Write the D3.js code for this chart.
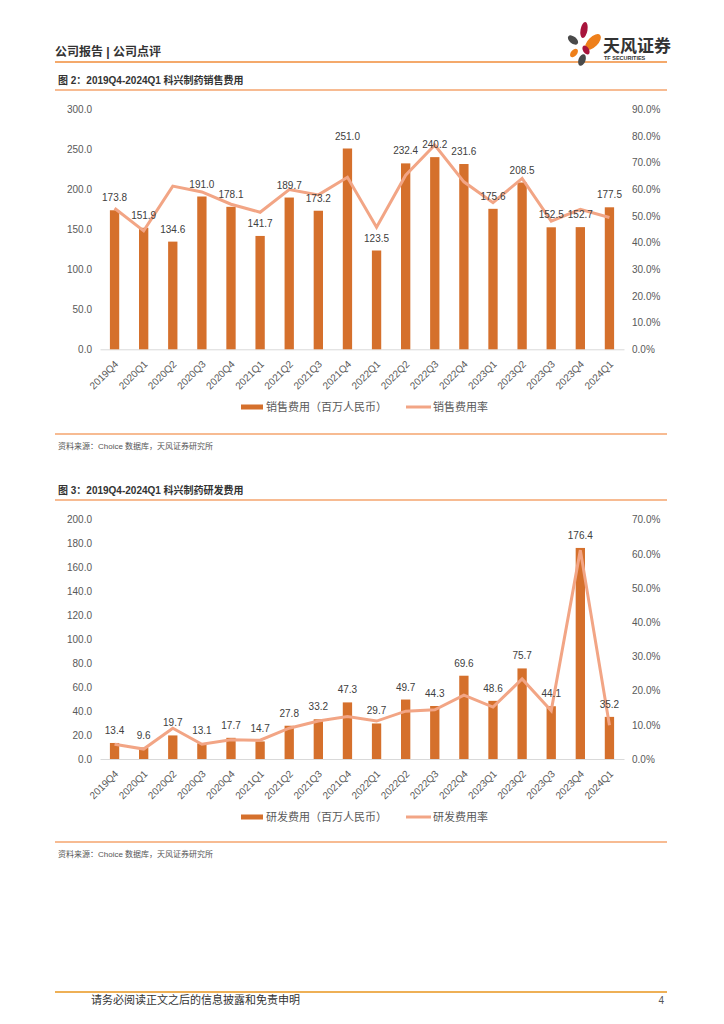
<!DOCTYPE html>
<html>
<head>
<meta charset="utf-8">
<script src="https://cdn.jsdelivr.net/npm/d3@7/dist/d3.min.js"></script>
<style>
  body { margin: 0; background: #fff; }
  svg { display: block; }
  text { font-family: "Liberation Sans", "Noto Sans CJK SC", sans-serif; }
</style>
</head>
<body>
<div id="page"></div>
<script>
/* -----------------    DATA     ------------------ */
const quarters = ['2019Q4', '2020Q1', '2020Q2', '2020Q3', '2020Q4', '2021Q1', '2021Q2', '2021Q3', '2021Q4',
    '2022Q1', '2022Q2', '2022Q3', '2022Q4', '2023Q1', '2023Q2', '2023Q3', '2023Q4', '2024Q1'];

// 销售费用（百万人民币）and 销售费用率 (%)
const salesExpense = [173.8, 151.9, 134.6, 191.0, 178.1, 141.7, 189.7, 173.2, 251.0,
    123.5, 232.4, 240.2, 231.6, 175.6, 208.5, 152.5, 152.7, 177.5];
const salesRate = [52.9, 44.4, 61.2, 59.0, 54.4, 51.4, 59.9, 57.9, 64.5,
    45.8, 65.3, 76.6, 62.8, 55.0, 64.1, 48.1, 52.5, 49.4];

// 研发费用（百万人民币）and 研发费用率 (%)
const rdExpense = [13.4, 9.6, 19.7, 13.1, 17.7, 14.7, 27.8, 33.2, 47.3,
    29.7, 49.7, 44.3, 69.6, 48.6, 75.7, 44.1, 176.4, 35.2];
const rdRate = [4.3, 2.9, 9.0, 4.3, 5.6, 5.5, 9.0, 11.1, 12.4,
    11.1, 14.0, 14.4, 18.7, 15.2, 23.4, 14.1, 61.1, 9.9];

// Tick values
const salesLeftTicks = [0, 50, 100, 150, 200, 250, 300];
const salesRightTicks = [0, 10, 20, 30, 40, 50, 60, 70, 80, 90];
const rdLeftTicks = [0, 20, 40, 60, 80, 100, 120, 140, 160, 180, 200];
const rdRightTicks = [0, 10, 20, 30, 40, 50, 60, 70];

/* -----------------    SETTINGS     ------------------ */
const settings = {
    width: 724,
    height: 1024,
    plotLeft: 100,
    plotRight: 624,
    barColor: '#D5702C',
    lineColor: '#F2A585',
    rule: '#F4A46E',
    headRule: '#F08C3A',
    axisColor: '#D9D9D9',
    tickText: '#595959',
    labelText: '#404040'
};

const svg = d3.select('#page')
    .append('svg')
    .attr('width', settings.width)
    .attr('height', settings.height);

/* -----------------    PAGE FRAME     ------------------ */
const hRule = (y, color, w) => svg.append('line')
    .attr('x1', 55).attr('x2', 667)
    .attr('y1', y).attr('y2', y)
    .attr('stroke', color).attr('stroke-width', w);

svg.append('text')
    .attr('x', 55).attr('y', 56)
    .attr('font-size', 12).attr('font-weight', 'bold')
    .attr('fill', '#333')
    .text('公司报告 | 公司点评');

hRule(62, settings.headRule, 1.5);

// Logo petals
const logo = svg.append('g').attr('transform', 'translate(584, 42)');
const petals = [
    { cx: 0, cy: -12, rx: 3.5, ry: 8, rot: 10, c: '#A8143C' },
    { cx: -11, cy: -2, rx: 3.5, ry: 6, rot: -50, c: '#4A4A4A' },
    { cx: 9, cy: 0, rx: 5, ry: 10, rot: 45, c: '#EE7F1A' },
    { cx: -10, cy: 11, rx: 3, ry: 5, rot: 40, c: '#EE7F1A' },
    { cx: 2, cy: 8, rx: 3, ry: 5, rot: -30, c: '#A8143C' },
    { cx: -2, cy: 18, rx: 3.5, ry: 6, rot: 20, c: '#4A4A4A' }
];
logo.selectAll('ellipse')
    .data(petals)
    .enter()
    .append('ellipse')
    .attr('cx', d => d.cx).attr('cy', d => d.cy)
    .attr('rx', d => d.rx).attr('ry', d => d.ry)
    .attr('transform', d => `rotate(${d.rot}, ${d.cx}, ${d.cy})`)
    .attr('fill', d => d.c);

svg.append('text')
    .attr('x', 603).attr('y', 52)
    .attr('font-size', 17).attr('font-weight', 'bold')
    .attr('fill', '#333')
    .text('天风证券');

svg.append('text')
    .attr('x', 604).attr('y', 59.5)
    .attr('font-size', 5.5).attr('font-weight', 'bold')
    .attr('fill', '#333')
    .text('TF SECURITIES');

// Footer
svg.append('line')
    .attr('x1', 55).attr('x2', 667)
    .attr('y1', 992).attr('y2', 992)
    .attr('stroke', '#E8961E').attr('stroke-width', 1.5);

svg.append('text')
    .attr('x', 91).attr('y', 1004)
    .attr('font-size', 11).attr('fill', '#333')
    .text('请务必阅读正文之后的信息披露和免责申明');

svg.append('text')
    .attr('x', 664).attr('y', 1004)
    .attr('font-size', 10).attr('fill', '#555')
    .attr('text-anchor', 'end')
    .text('4');

/* -----------------    CHART     ------------------ */
function drawChart(cfg) {

    const { titleY, top, bottom, bars, rates, leftTicks, rightTicks, leftMax, rightMax,
        title, barName, lineName, legendY, endY } = cfg;

    // Title + rules
    svg.append('text')
        .attr('x', 58).attr('y', titleY)
        .attr('font-size', 10).attr('font-weight', 'bold')
        .attr('fill', '#333')
        .text(title);

    hRule(titleY + 6, settings.rule, 1.5);
    hRule(endY, settings.rule, 1.5);

    svg.append('text')
        .attr('x', 58).attr('y', endY + 15)
        .attr('font-size', 8).attr('fill', '#555')
        .text('资料来源：Choice 数据库，天风证券研究所');

    // Scales
    const xScale = d3.scaleBand()
        .domain(quarters)
        .range([settings.plotLeft, settings.plotRight]);

    const yScale = d3.scaleLinear()
        .domain([0, leftMax])
        .range([bottom, top]);

    const rScale = d3.scaleLinear()
        .domain([0, rightMax])
        .range([bottom, top]);

    const cx = q => xScale(q) + xScale.bandwidth() / 2;
    const barW = xScale.bandwidth() * 0.32;

    // Axes
    const yAxis = d3.axisLeft(yScale)
        .tickValues(leftTicks)
        .tickSize(0)
        .tickPadding(8)
        .tickFormat(d3.format('.1f'));

    const rAxis = d3.axisRight(rScale)
        .tickValues(rightTicks)
        .tickSize(0)
        .tickPadding(8)
        .tickFormat(d => d.toFixed(1) + '%');

    const gy = svg.append('g')
        .attr('transform', `translate(${settings.plotLeft}, 0)`)
        .call(yAxis);

    const gr = svg.append('g')
        .attr('transform', `translate(${settings.plotRight}, 0)`)
        .call(rAxis);

    [gy, gr].forEach(g => {
        g.select('.domain').remove();
        g.selectAll('text')
            .attr('font-size', 10)
            .attr('fill', settings.tickText)
            .attr('font-family', '"Liberation Sans", sans-serif');
    });

    const xAxis = d3.axisBottom(xScale).tickSize(0).tickPadding(0);

    const gx = svg.append('g')
        .attr('transform', `translate(0, ${bottom})`)
        .call(xAxis);

    gx.select('.domain')
        .attr('stroke', settings.axisColor)
        .attr('stroke-width', 1);

    gx.selectAll('text')
        .attr('font-size', 10)
        .attr('fill', settings.tickText)
        .attr('font-family', '"Liberation Sans", sans-serif')
        .attr('text-anchor', 'end')
        .attr('y', 0)
        .attr('dy', '0.35em')
        .attr('transform', 'translate(2, 13) rotate(-45)');

    // Bars
    svg.append('g')
        .selectAll('rect')
        .data(quarters)
        .enter()
        .append('rect')
        .attr('x', (q, i) => cx(q) - barW / 2)
        .attr('y', (q, i) => yScale(bars[i]))
        .attr('width', barW)
        .attr('height', (q, i) => bottom - yScale(bars[i]))
        .attr('fill', settings.barColor);

    // Line
    const line = d3.line()
        .x(d => cx(d.q))
        .y(d => rScale(d.v));

    svg.append('path')
        .datum(quarters.map((q, i) => ({ q, v: rates[i] })))
        .attr('d', line)
        .attr('fill', 'none')
        .attr('stroke', settings.lineColor)
        .attr('stroke-width', 3)
        .attr('stroke-linejoin', 'miter');

    // Data labels
    svg.append('g')
        .selectAll('text')
        .data(quarters)
        .enter()
        .append('text')
        .attr('x', q => cx(q))
        .attr('y', (q, i) => yScale(bars[i]) - 9)
        .attr('text-anchor', 'middle')
        .attr('font-size', 10)
        .attr('fill', settings.labelText)
        .attr('font-family', '"Liberation Sans", sans-serif')
        .text((q, i) => bars[i].toFixed(1));

    // Legend
    const lg = svg.append('g').attr('transform', `translate(0, ${legendY})`);

    lg.append('rect')
        .attr('x', 241).attr('y', -2.5)
        .attr('width', 22).attr('height', 5)
        .attr('fill', settings.barColor);

    lg.append('text')
        .attr('x', 266).attr('y', 4)
        .attr('font-size', 11).attr('fill', settings.tickText)
        .text(barName);

    lg.append('line')
        .attr('x1', 406).attr('x2', 431)
        .attr('y1', 0).attr('y2', 0)
        .attr('stroke', settings.lineColor)
        .attr('stroke-width', 3);

    lg.append('text')
        .attr('x', 433).attr('y', 4)
        .attr('font-size', 11).attr('fill', settings.tickText)
        .text(lineName);
}

drawChart({
    title: '图 2：2019Q4-2024Q1 科兴制药销售费用',
    titleY: 84,
    top: 109.3,
    bottom: 349.3,
    bars: salesExpense,
    rates: salesRate,
    leftTicks: salesLeftTicks,
    rightTicks: salesRightTicks,
    leftMax: 300,
    rightMax: 90,
    barName: '销售费用（百万人民币）',
    lineName: '销售费用率',
    legendY: 407,
    endY: 434
});

drawChart({
    title: '图 3：2019Q4-2024Q1 科兴制药研发费用',
    titleY: 494,
    top: 519.7,
    bottom: 759,
    bars: rdExpense,
    rates: rdRate,
    leftTicks: rdLeftTicks,
    rightTicks: rdRightTicks,
    leftMax: 200,
    rightMax: 70,
    barName: '研发费用（百万人民币）',
    lineName: '研发费用率',
    legendY: 817,
    endY: 842
});
</script>
</body>
</html>
